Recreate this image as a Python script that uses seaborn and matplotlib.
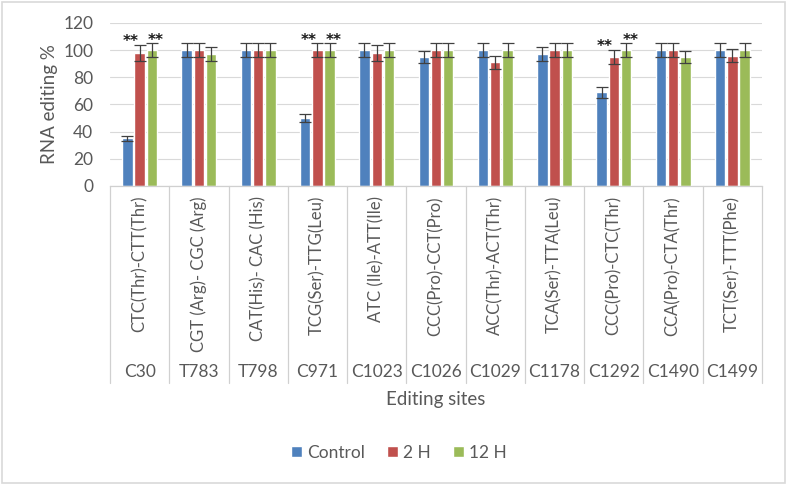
import matplotlib
matplotlib.use("Agg")
import matplotlib.pyplot as plt
import matplotlib.transforms as mtransforms
from matplotlib.patches import Rectangle
import seaborn as sns
import pandas as pd

sites = ["C30", "T783", "T798", "C971", "C1023", "C1026", "C1029", "C1178", "C1292", "C1490", "C1499"]
codons = ["CTC(Thr)-CTT(Thr)", "CGT (Arg)- CGC (Arg)", "CAT(His)- CAC (His)", "TCG(Ser)-TTG(Leu)",
          "ATC (Ile)-ATT(Ile)", "CCC(Pro)-CCT(Pro)", "ACC(Thr)-ACT(Thr)", "TCA(Ser)-TTA(Leu)",
          "CCC(Pro)-CTC(Thr)", "CCA(Pro)-CTA(Thr)", "TCT(Ser)-TTT(Phe)"]
groups = ["Control", "2 H", "12 H"]
control = [35, 100, 100, 50, 100, 95, 100, 97, 69, 100, 100]
h2 = [98, 100, 100, 100, 98, 100, 91, 100, 95, 100, 96]
h12 = [100, 97, 100, 100, 100, 100, 100, 100, 100, 95, 100]
control_err = [2, 5, 5, 3, 5, 4.5, 5, 5, 4, 5, 5]
h2_err = [6, 5, 5, 5, 6, 5, 5, 5, 5, 5, 5]
h12_err = [5, 5, 5, 5, 5, 5, 5, 5, 5, 4.5, 5]
# significance marks (site index, group index)
star_sites = [0, 0, 3, 3, 8, 8]
star_groups = [1, 2, 1, 2, 1, 2]
colors = ["#4F81BD", "#C0504D", "#9BBB59"]
y_ticks = [0, 20, 40, 60, 80, 100, 120]

values = [control, h2, h12]
errors = [control_err, h2_err, h12_err]
rows = []
for g, vals, errs in zip(groups, values, errors):
    for s, v, e in zip(sites, vals, errs):
        rows.append({"site": s, "group": g, "value": v, "err": e})
df = pd.DataFrame(rows)

sns.set_theme(style="white")
plt.rcParams["font.family"] = ["Lato", "DejaVu Sans"]
txt = "#595959"

fig = plt.figure(figsize=(7.87, 4.84), dpi=100)
ax = fig.add_axes([110 / 787, 1 - 186 / 484, (762 - 110) / 787, (186 - 23) / 484])

sns.barplot(data=df, x="site", y="value", hue="group", order=sites, hue_order=groups,
            palette=colors, width=0.62, gap=0.15, errorbar=None, ax=ax, legend=True,
            saturation=1, zorder=2)

bar_containers = list(ax.containers)

# error bars and stars
for gi, cont in enumerate(bar_containers):
    for si, patch in enumerate(cont.patches):
        xc = patch.get_x() + patch.get_width() / 2
        v = values[gi][si]
        e = errors[gi][si]
        ax.errorbar(xc, v, yerr=e, fmt="none", ecolor="#404040", elinewidth=0.9,
                    capsize=4.5, capthick=0.9, zorder=3)
star_dx = {1: -6.5, 2: 3.0}
for si, gi in zip(star_sites, star_groups):
    patch = bar_containers[gi].patches[si]
    xc = patch.get_x() + patch.get_width() / 2
    top = values[gi][si] + errors[gi][si]
    ax.annotate("**", xy=(xc, top), xytext=(star_dx[gi], -3), textcoords="offset points",
                ha="center", va="bottom", fontsize=11, fontweight="bold",
                color="#1a1a1a", family="DejaVu Sans")

ax.set_ylim(0, 120)
ax.set_xlim(-0.5, len(sites) - 0.5)
ax.set_yticks(y_ticks)
ax.set_yticklabels([str(t) for t in y_ticks], fontsize=12.5, color=txt)
ax.tick_params(axis="y", length=0, pad=12)
ax.tick_params(axis="x", length=0, labelbottom=False)
ax.set_xlabel("")
ax.set_ylabel("RNA editing %", fontsize=13.5, color=txt, labelpad=4)
ax.yaxis.grid(True, color="#D9D9D9", linewidth=0.8, zorder=0)
ax.set_axisbelow(True)
for sp in ["top", "right", "left"]:
    ax.spines[sp].set_visible(False)
ax.spines["bottom"].set_color("#D0D0D0")
ax.spines["bottom"].set_linewidth(0.9)

# two-level category labels
trans = mtransforms.blended_transform_factory(ax.transData, fig.transFigure)
y_top = 1 - 186 / 484
y_bot = 1 - 383 / 484
for b in range(len(sites) + 1):
    ax.plot([b - 0.5, b - 0.5], [y_top, y_bot], transform=trans, color="#D0D0D0",
            linewidth=0.9, clip_on=False)
for i, (s, c) in enumerate(zip(sites, codons)):
    ax.text(i, 1 - 196 / 484, c, transform=trans, rotation=90, ha="center", va="top",
            fontsize=12, color=txt)
    ax.text(i, 1 - 372 / 484, s, transform=trans, ha="center", va="center",
            fontsize=12.5, color=txt)
ax.text(len(sites) / 2 - 0.5, 1 - 400 / 484, "Editing sites", transform=trans, ha="center",
        va="center", fontsize=13.5, color=txt)

# legend
handles, labels = ax.get_legend_handles_labels()
ax.legend_.remove()
fig.legend(handles, labels, loc="center", bbox_to_anchor=(399 / 787, 1 - 453 / 484), ncol=3,
           frameon=False, fontsize=12.5, handlelength=0.6, handleheight=0.6, handletextpad=0.3,
           columnspacing=1.3, labelcolor=txt)

fig.patches.append(Rectangle((0.002, 0.003), 0.995, 0.993, transform=fig.transFigure,
                             fill=False, edgecolor="#D9D9D9", linewidth=1.2))

fig.savefig("out.png", dpi=100)
